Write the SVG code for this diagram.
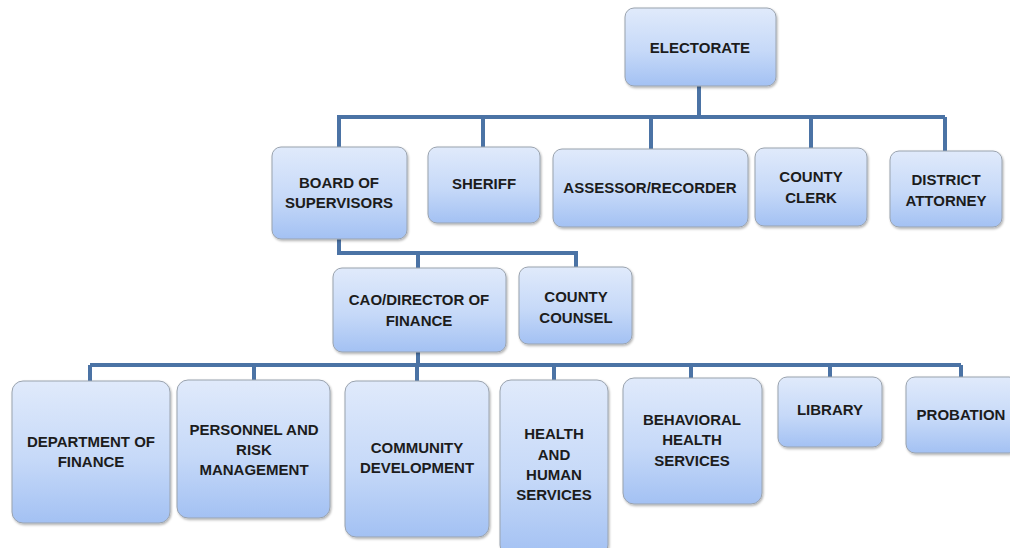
<svg xmlns="http://www.w3.org/2000/svg" width="1010" height="548" viewBox="0 0 1010 548">
  <defs>
    <linearGradient id="boxFill" x1="0" y1="0" x2="0" y2="1">
      <stop offset="0" stop-color="#e0eafb"/>
      <stop offset="0.55" stop-color="#c6d9f8"/>
      <stop offset="1" stop-color="#a3c1f3"/>
    </linearGradient>
    <filter id="shadow" x="-10%" y="-10%" width="125%" height="125%">
      <feDropShadow dx="1" dy="1.5" stdDeviation="1" flood-color="#000" flood-opacity="0.3"/>
    </filter>
  </defs>
  <style>
    .box { fill: url(#boxFill); stroke: #9aa3ae; stroke-width: 1; filter: url(#shadow); }
    .lbl { font-family: "Liberation Sans", Arial, sans-serif; font-weight: bold; font-size: 15px; fill: #1c1c1c; text-anchor: middle; }
    .link { fill: none; stroke: #4b73a5; stroke-width: 4; stroke-linejoin: miter; }
  </style>
  <rect width="1010" height="548" fill="#ffffff"/>

  <!-- connectors -->
  <g id="connectors">
    <path class="link" d="M699 86 V117 M337 117 H945 M339 117 V147 M483 117 V147 M651 117 V149 M811 117 V148 M945 117 V151"/>
    <path class="link" d="M339 239 V253 H576 V267 M418 253 V268"/>
    <path class="link" d="M418 352 V365 M90 365 H961 M90 365 V381 M254 365 V380 M417 365 V381 M554 365 V380 M691 365 V378 M830 365 V377 M961 365 V377"/>
  </g>

  <g id="electorate">
    <rect class="box" x="625" y="8" width="151" height="78" rx="9"/>
    <text class="lbl" x="700" y="53">ELECTORATE</text>
  </g>

  <g id="board-of-supervisors">
    <rect class="box" x="272" y="147" width="135" height="92" rx="9"/>
    <text class="lbl" x="339" y="188">BOARD OF</text>
    <text class="lbl" x="339" y="208">SUPERVISORS</text>
  </g>

  <g id="sheriff">
    <rect class="box" x="428" y="147" width="112" height="76" rx="9"/>
    <text class="lbl" x="484" y="189">SHERIFF</text>
  </g>

  <g id="assessor-recorder">
    <rect class="box" x="553" y="149" width="195" height="78" rx="9"/>
    <text class="lbl" x="650" y="193">ASSESSOR/RECORDER</text>
  </g>

  <g id="county-clerk">
    <rect class="box" x="755" y="148" width="112" height="78" rx="9"/>
    <text class="lbl" x="811" y="182">COUNTY</text>
    <text class="lbl" x="811" y="203">CLERK</text>
  </g>

  <g id="district-attorney">
    <rect class="box" x="890" y="151" width="112" height="76" rx="9"/>
    <text class="lbl" x="946" y="185">DISTRICT</text>
    <text class="lbl" x="946" y="206">ATTORNEY</text>
  </g>

  <g id="cao-director-of-finance">
    <rect class="box" x="333" y="268" width="173" height="84" rx="9"/>
    <text class="lbl" x="419" y="305">CAO/DIRECTOR OF</text>
    <text class="lbl" x="419" y="326">FINANCE</text>
  </g>

  <g id="county-counsel">
    <rect class="box" x="519" y="267" width="113" height="77" rx="9"/>
    <text class="lbl" x="576" y="302">COUNTY</text>
    <text class="lbl" x="576" y="323">COUNSEL</text>
  </g>

  <g id="department-of-finance">
    <rect class="box" x="12" y="381" width="158" height="142" rx="11"/>
    <text class="lbl" x="91" y="447">DEPARTMENT OF</text>
    <text class="lbl" x="91" y="467">FINANCE</text>
  </g>

  <g id="personnel-and-risk-management">
    <rect class="box" x="177" y="380" width="153" height="138" rx="11"/>
    <text class="lbl" x="254" y="435">PERSONNEL AND</text>
    <text class="lbl" x="254" y="455">RISK</text>
    <text class="lbl" x="254" y="475">MANAGEMENT</text>
  </g>

  <g id="community-development">
    <rect class="box" x="345" y="381" width="144" height="156" rx="11"/>
    <text class="lbl" x="417" y="453">COMMUNITY</text>
    <text class="lbl" x="417" y="473">DEVELOPMENT</text>
  </g>

  <g id="health-and-human-services">
    <rect class="box" x="500" y="380" width="108" height="176" rx="11"/>
    <text class="lbl" x="554" y="439">HEALTH</text>
    <text class="lbl" x="554" y="460">AND</text>
    <text class="lbl" x="554" y="480">HUMAN</text>
    <text class="lbl" x="554" y="500">SERVICES</text>
  </g>

  <g id="behavioral-health-services">
    <rect class="box" x="623" y="378" width="139" height="126" rx="11"/>
    <text class="lbl" x="692" y="425">BEHAVIORAL</text>
    <text class="lbl" x="692" y="445">HEALTH</text>
    <text class="lbl" x="692" y="466">SERVICES</text>
  </g>

  <g id="library">
    <rect class="box" x="778" y="377" width="104" height="70" rx="9"/>
    <text class="lbl" x="830" y="415">LIBRARY</text>
  </g>

  <g id="probation">
    <rect class="box" x="906" y="377" width="112" height="76" rx="9"/>
    <text class="lbl" x="961" y="420">PROBATION</text>
  </g>
</svg>
